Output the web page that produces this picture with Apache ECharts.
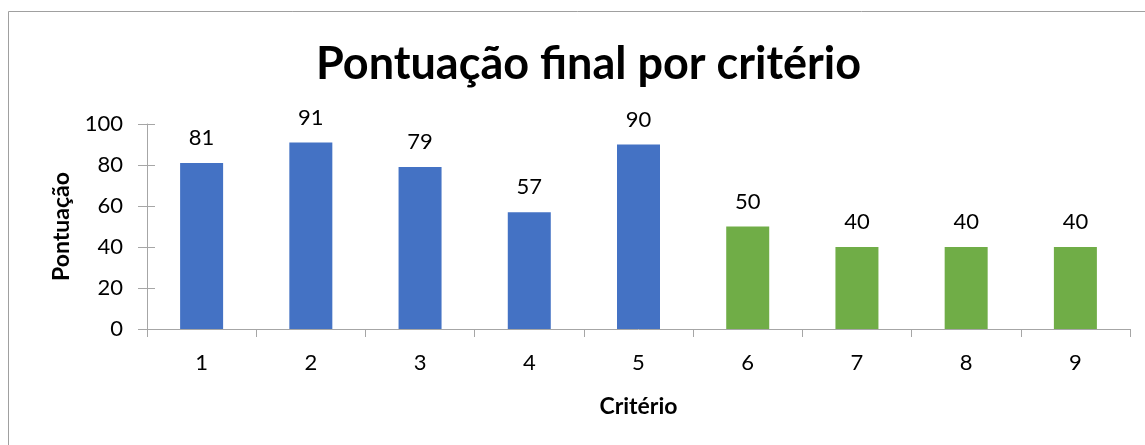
<!DOCTYPE html>
<html>
<head>
<meta charset="utf-8">
<script src="https://cdn.jsdelivr.net/npm/echarts@6/dist/echarts.min.js"></script>
<style>
  html, body { margin: 0; padding: 0; background: #fff; }
  #main { width: 1145px; height: 445px; }
</style>
</head>
<body>
<div id="main"></div>
<script>
// dados do gráfico
var criterios = ['1', '2', '3', '4', '5', '6', '7', '8', '9'];
var pontuacao = [81, 91, 79, 57, 90, 50, 40, 40, 40];
var cores = ['#4472C4', '#4472C4', '#4472C4', '#4472C4', '#4472C4', '#70AD47', '#70AD47', '#70AD47', '#70AD47'];
var yTicks = [0, 20, 40, 60, 80, 100];

var fonte = 'Lato, "Open Sans", sans-serif';
var corEixo = '#a6a6a6';

var myChart = echarts.init(document.getElementById('main'));
myChart.setOption({
    animation: false,
    backgroundColor: '#fff',
    graphic: [{
        type: 'rect',
        shape: { x: 8.5, y: 11.5, width: 1200, height: 500 },
        style: { fill: 'none', stroke: '#a0a0a0', lineWidth: 1 },
        silent: true
    }],
    title: {
        text: 'Pontuação final por critério',
        left: 311,
        top: 37,
        textStyle: { fontFamily: fonte, fontSize: 45, fontWeight: 'bold', color: '#000' }
    },
    grid: { left: 147, right: 15, top: 124, bottom: 116, containLabel: false },
    xAxis: {
        type: 'category',
        data: criterios,
        name: 'Critério',
        nameLocation: 'middle',
        nameGap: 66,
        nameTextStyle: { fontFamily: fonte, fontSize: 23, fontWeight: 'bold', color: '#000' },
        axisLine: { lineStyle: { color: corEixo, width: 1 } },
        axisTick: { show: true, length: 8, lineStyle: { color: corEixo } },
        axisLabel: { fontFamily: fonte, fontSize: 22, color: '#000', margin: 23 }
    },
    yAxis: [{
        type: 'value',
        min: yTicks[0],
        max: yTicks[yTicks.length - 1],
        interval: 20,
        name: 'Pontuação',
        nameLocation: 'middle',
        nameGap: 74,
        nameTextStyle: { fontFamily: fonte, fontSize: 23, fontWeight: 'bold', color: '#000' },
        splitLine: { show: false },
        axisLine: { show: true, lineStyle: { color: corEixo, width: 1 } },
        axisTick: { show: true, length: 9, lineStyle: { color: corEixo } },
        axisLabel: { fontFamily: fonte, fontSize: 22, color: '#000', margin: 24 }
    }, {
        // só para os traços que cruzam o eixo
        type: 'value',
        position: 'left',
        min: yTicks[0],
        max: yTicks[yTicks.length - 1],
        interval: 20,
        splitLine: { show: false },
        axisLine: { show: false },
        axisTick: { show: true, inside: true, length: 8, lineStyle: { color: corEixo } },
        axisLabel: { show: false }
    }],
    series: [{
        type: 'bar',
        yAxisIndex: 0,
        barWidth: 43,
        data: pontuacao.map(function (v, i) {
            return { value: v, itemStyle: { color: cores[i] } };
        }),
        label: {
            show: true,
            position: 'top',
            distance: 14,
            fontFamily: fonte,
            fontSize: 22,
            color: '#000'
        }
    }]
});
</script>
</body>
</html>
